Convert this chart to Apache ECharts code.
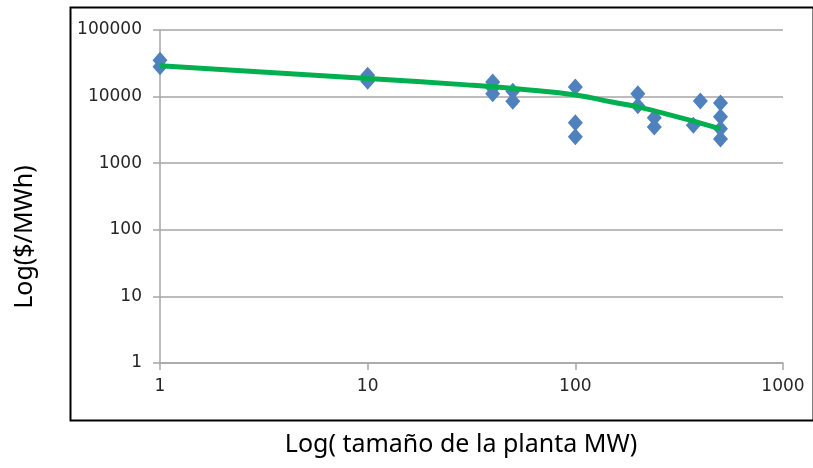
<!DOCTYPE html>
<html>
<head>
<meta charset="utf-8">
<script src="https://cdn.jsdelivr.net/npm/echarts@6/dist/echarts.min.js"></script>
<style>html,body{margin:0;padding:0;background:#fff}#c{width:813px;height:468px}</style>
</head>
<body>
<div id="c"></div>
<script>
// Scatter data: plant size (MW) and cost ($/MWh)
const plantSizeMW = [1, 1, 10, 10, 40, 40, 40, 50, 50, 100, 100, 100, 200, 200, 240, 240, 370, 400, 500, 500, 500, 500];
const costPerMWh  = [35000, 28000, 21000, 17000, 16500, 13500, 11000, 12000, 8500, 13900, 4050, 2500, 11000, 7300, 4800, 3500, 3700, 8600, 8000, 5000, 3300, 2300];
// Trend line
const trendX = [1, 10, 30, 60, 100, 150, 200, 300, 400, 500];
const trendY = [29100, 18700, 15000, 12600, 10600, 8300, 7000, 5100, 4000, 3270];
// Axis titles
const xAxisTitle = "Log( tamaño de la planta MW)";
const yAxisTitle = "Log($/MWh)";

const chart = echarts.init(document.getElementById('c'), null, {renderer: 'canvas'});
const labelStyle = {color: '#262626', fontFamily: 'DejaVu Sans', fontSize: 17};
chart.setOption({
  backgroundColor: '#fff',
  animation: false,
  grid: {left: 160, right: 30, top: 30, bottom: 105},
  xAxis: {
    type: 'log', logBase: 10, min: 1, max: 1000,
    axisLine: {show: true, lineStyle: {color: '#a6a6a6', width: 1.5}},
    axisTick: {show: true, length: 7, lineStyle: {color: '#a6a6a6', width: 1.5}},
    minorTick: {show: false},
    splitLine: {show: false},
    axisLabel: Object.assign({margin: 15, formatter: v => String(Math.round(v))}, labelStyle)
  },
  yAxis: {
    type: 'log', logBase: 10, min: 1, max: 100000,
    axisLine: {show: true, lineStyle: {color: '#a6a6a6', width: 1.5}},
    axisTick: {show: true, length: 7, lineStyle: {color: '#a6a6a6', width: 1.5}},
    splitLine: {show: true, lineStyle: {color: '#a6a6a6', width: 1.5}},
    axisLabel: Object.assign({margin: 18, formatter: v => String(Math.round(v))}, labelStyle)
  },
  series: [
    {
      type: 'scatter',
      data: plantSizeMW.map((x, i) => [x, costPerMWh[i]]),
      symbol: 'diamond',
      symbolSize: [15, 17],
      itemStyle: {color: '#4f81bd', opacity: 1},
      z: 2
    },
    {
      type: 'line',
      data: trendX.map((x, i) => [x, trendY[i]]),
      smooth: 0.5,
      showSymbol: false,
      symbol: 'none',
      lineStyle: {color: '#00b050', width: 5},
      z: 3
    }
  ],
  graphic: [
    {type: 'rect', left: 68, top: 5, shape: {width: 743, height: 413},
     style: {fill: 'none', stroke: '#000', lineWidth: 2}, silent: true, z: 10},
    {type: 'text', x: 461, y: 445,
     style: {text: xAxisTitle, font: '25px "Noto Sans"', fill: '#000', align: 'center', verticalAlign: 'middle'}, z: 10},
    {type: 'text', x: 25, y: 237, rotation: Math.PI / 2,
     style: {text: yAxisTitle, font: '25px "Noto Sans"', fill: '#000', align: 'center', verticalAlign: 'middle'}, z: 10}
  ]
});
</script>
</body>
</html>
